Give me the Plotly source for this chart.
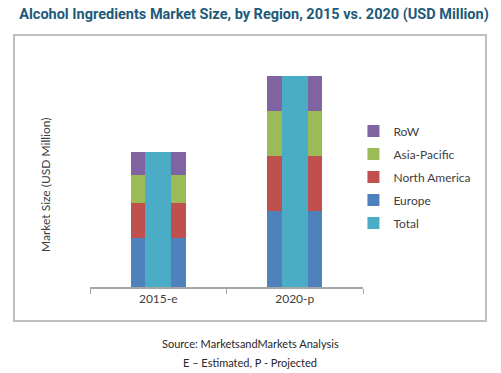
import plotly.graph_objects as go

categories = ["2015-e", "2020-p"]
europe = [490, 763]
north_america = [346, 547]
asia_pacific = [287, 446]
row = [223, 357]
series_names = ["Europe", "North America", "Asia-Pacific", "RoW"]
series_values = [europe, north_america, asia_pacific, row]
series_colors = ["#4F81BD", "#C0504D", "#9BBB59", "#8064A2"]
legend_ranks = [4, 3, 2, 1]
total = [sum(v) for v in zip(*series_values)]

FONT = "Lato, Liberation Sans, sans-serif"

fig = go.Figure()
base = [0, 0]
for name, vals, col, rk in zip(series_names, series_values, series_colors, legend_ranks):
    fig.add_trace(go.Bar(
        x=categories, y=vals, base=list(base), name=name,
        marker=dict(color=col, line=dict(width=0)),
        width=0.4, legendrank=rk, legendgroup=name,
    ))
    base = [b + v for b, v in zip(base, vals)]

fig.add_trace(go.Bar(
    x=categories, y=total, name="Total",
    marker=dict(color="#4BACC6", line=dict(width=0)),
    width=0.19, legendrank=5, legendgroup="Total",
))

fig.update_layout(
    width=501, height=373,
    margin=dict(l=90, r=138, t=40, b=86),
    barmode="overlay",
    paper_bgcolor="white", plot_bgcolor="white",
    font=dict(family=FONT, size=12, color="#404040"),
    title=dict(
        text="<b>Alcohol Ingredients Market Size, by Region, 2015 vs. 2020 (USD Million)</b>",
        x=0.507, xanchor="center", y=0.962, yanchor="middle",
        font=dict(family="Roboto, Lato, sans-serif", size=14.5, color="#215A7A"),
    ),
    xaxis=dict(
        type="category", showline=True, linecolor="#A6A6A6", linewidth=2,
        ticks="outside", tickson="boundaries", ticklen=5, tickcolor="#A6A6A6",
        tickfont=dict(size=12, color="#404040"), showgrid=False, zeroline=False,
        range=[-0.5, 1.5],
    ),
    yaxis=dict(range=[0, 2470], visible=False, showgrid=False, zeroline=False),
    showlegend=True,
    legend=dict(
        x=0.965, xanchor="left", y=0.445, yanchor="middle",
        traceorder="grouped", tracegroupgap=4,
        font=dict(size=12, color="#404040"), bgcolor="rgba(0,0,0,0)",
        itemclick=False,
    ),
    bargap=0,
)

fig.add_annotation(
    text="Market Size (USD Million)", textangle=-90,
    xref="paper", yref="paper", x=(45 - 90) / 273, y=(287 - 185) / 247,
    xanchor="center", yanchor="middle", showarrow=False,
    font=dict(size=12, color="#404040"),
)
fig.add_annotation(
    text="Source: MarketsandMarkets Analysis",
    xref="paper", yref="paper", x=(250 - 90) / 273, y=(287 - 343) / 247,
    xanchor="center", yanchor="middle", showarrow=False,
    font=dict(size=11, color="#262626"),
)
fig.add_annotation(
    text="E \u2013 Estimated, P - Projected",
    xref="paper", yref="paper", x=(250 - 90) / 273, y=(287 - 362) / 247,
    xanchor="center", yanchor="middle", showarrow=False,
    font=dict(size=11, color="#262626"),
)

# outer chart border
fig.add_shape(
    type="rect", xref="paper", yref="paper",
    x0=(14 - 90) / 273, x1=(486 - 90) / 273,
    y0=(287 - 321) / 247, y1=(287 - 35) / 247,
    line=dict(color="#BFBFBF", width=2), fillcolor="rgba(0,0,0,0)", layer="below",
)

fig.write_html(
    "out.html",
    config={"displayModeBar": False},
    post_script="document.body.style.margin='0';",
)
